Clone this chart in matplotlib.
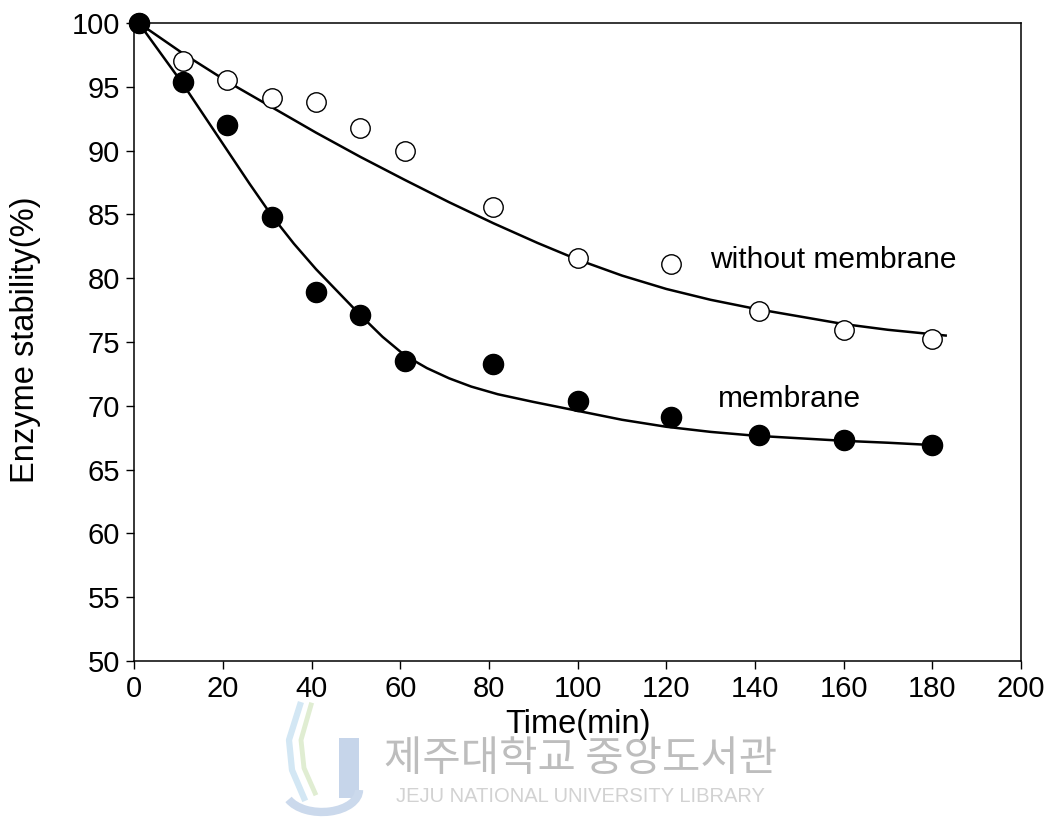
import matplotlib
matplotlib.use("Agg")
import matplotlib.pyplot as plt
from matplotlib.patches import Rectangle, Arc
from matplotlib.lines import Line2D

plt.rcParams['font.family'] = ['Liberation Sans', 'DejaVu Sans']

# measured points
time_pts = [1, 11, 21, 31, 41, 51, 61, 81, 100, 121, 141, 160, 180]
with_membrane = [100, 95.4, 92.0, 84.8, 78.9, 77.1, 73.5, 73.3, 70.4, 69.1, 67.7, 67.3, 66.9]
without_membrane = [100, 97.0, 95.5, 94.1, 93.8, 91.8, 90.0, 85.6, 81.6, 81.1, 77.4, 75.9, 75.2]

# fitted decay curves
fit_time_m = [1, 6, 11, 16, 21, 26, 31, 36, 41, 46, 51, 56, 61, 66, 71, 76, 82, 90,
              100, 110, 120, 130, 140, 150, 160, 170, 181]
fit_m = [100, 97.6, 95.2, 92.6, 90.0, 87.4, 84.9, 82.7, 80.7, 78.9, 77.1, 75.4, 73.95,
         72.95, 72.15, 71.5, 70.9, 70.3, 69.6, 68.9, 68.35, 67.95, 67.65, 67.45, 67.25, 67.1, 66.9]
fit_time_w = [1, 11, 21, 31, 41, 51, 61, 71, 81, 91, 100, 110, 120, 130, 140, 150,
              160, 170, 183]
fit_w = [100, 97.6, 95.4, 93.4, 91.4, 89.5, 87.7, 85.95, 84.3, 82.75, 81.45, 80.2, 79.15,
         78.3, 77.6, 77.0, 76.4, 75.95, 75.5]

fig = plt.figure(figsize=(10.57, 8.18), dpi=100)
ax = fig.add_axes([0.127, 0.192, 0.839, 0.780])

ax.plot(fit_time_w, fit_w, color='black', linewidth=1.8, zorder=2)
ax.plot(fit_time_m, fit_m, color='black', linewidth=1.8, zorder=2)
ax.plot(time_pts, without_membrane, linestyle='none', marker='o', markersize=14,
        markerfacecolor='white', markeredgecolor='black', markeredgewidth=1.0,
        zorder=3, clip_on=False)
ax.plot(time_pts, with_membrane, linestyle='none', marker='o', markersize=14.5,
        color='black', zorder=4, clip_on=False)

ax.text(129.8, 81.4, "without membrane", fontsize=21.5, ha='left', va='center')
ax.text(131.6, 70.5, "membrane", fontsize=21.5, ha='left', va='center')

ax.set_xlim(0, 200)
ax.set_ylim(50, 100)
ax.set_xticks(range(0, 201, 20))
ax.set_yticks(range(50, 101, 5))
ax.tick_params(direction='out', length=6, width=1.0, labelsize=21, pad=4)
for s in ax.spines.values():
    s.set_linewidth(1.1)

ax.set_xlabel("Time(min)", fontsize=23.5)
ax.xaxis.set_label_coords(0.5, -0.076)
ax.set_ylabel("Enzyme stability(%)", fontsize=23.5)
ax.yaxis.set_label_coords(-0.123, 0.503)
ax.yaxis.label.set_verticalalignment('center')

# library watermark: faint logo and name
W, H = 1057, 818
fig.add_artist(Rectangle((339 / W, 1 - 798 / H), 20 / W, 60 / H,
                         transform=fig.transFigure, color='#c6d5ea', lw=0))
fig.add_artist(Arc((322 / W, 1 - 790 / H), 74 / W, 44 / H, theta1=200, theta2=360,
                   transform=fig.transFigure, color='#cbd9ec', lw=6))
fig.add_artist(Line2D([300 / W, 289 / W, 292 / W, 304 / W],
                      [1 - 705 / H, 1 - 740 / H, 1 - 770 / H, 1 - 798 / H],
                      transform=fig.transFigure, color='#d3e7f4', lw=4.5))
fig.add_artist(Line2D([311 / W, 301 / W, 304 / W, 315 / W],
                      [1 - 705 / H, 1 - 740 / H, 1 - 768 / H, 1 - 793 / H],
                      transform=fig.transFigure, color='#e0edd2', lw=3.5))
fig.text(0.549, 0.071, "제주대학교 중앙도서관", fontsize=30, color='#bdbdbd',
         ha='center', va='center', family=['Noto Sans CJK KR', 'DejaVu Sans'])
fig.text(0.549, 0.026, "JEJU NATIONAL UNIVERSITY LIBRARY", fontsize=14.5, color='#d2d2d2',
         ha='center', va='center')

fig.savefig("out.png", dpi=100)
